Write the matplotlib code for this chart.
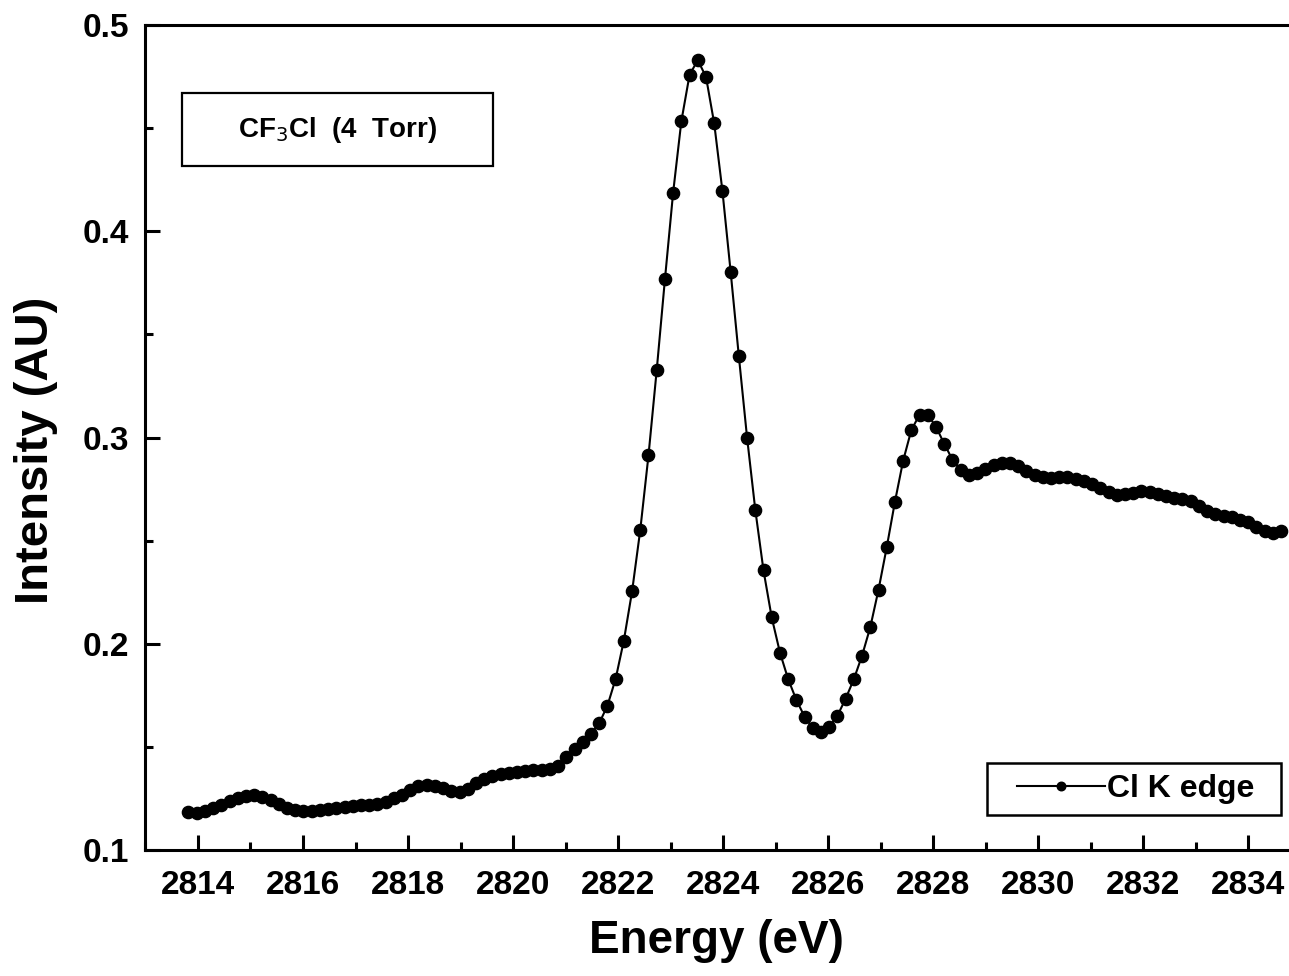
import numpy as np
import matplotlib
matplotlib.use("Agg")
import matplotlib.pyplot as plt
from matplotlib.patches import Rectangle
from matplotlib.ticker import MultipleLocator

plt.rcParams['font.family'] = ['Liberation Sans', 'DejaVu Sans']

# photon energy grid (eV), 134 evenly spaced points
energy = np.linspace(2813.82, 2834.62, 134)

# Cl K edge intensity
intensity = [
    0.1186, 0.1181, 0.1189, 0.1205, 0.1221, 0.1238, 0.1252, 0.1264, 0.1268, 0.1258,
    0.1242, 0.1222, 0.1205, 0.1193, 0.1189, 0.1191, 0.1193, 0.1198, 0.1204, 0.1210,
    0.1214, 0.1217, 0.1221, 0.1225, 0.1234, 0.1252, 0.1268, 0.1290, 0.1312, 0.1318,
    0.1311, 0.1299, 0.1287, 0.1283, 0.1298, 0.1324, 0.1346, 0.1358, 0.1369, 0.1375,
    0.1380, 0.1384, 0.1387, 0.1389, 0.1395, 0.1408, 0.1453, 0.1489, 0.1526, 0.1563,
    0.1615, 0.1700, 0.1830, 0.2016, 0.2254, 0.2553, 0.2914, 0.3327, 0.3767, 0.4188,
    0.4534, 0.4759, 0.4830, 0.4749, 0.4523, 0.4196, 0.3804, 0.3394, 0.3000, 0.2650,
    0.2356, 0.2128, 0.1958, 0.1829, 0.1728, 0.1647, 0.1592, 0.1571, 0.1596, 0.1652,
    0.1734, 0.1829, 0.1943, 0.2081, 0.2262, 0.2468, 0.2689, 0.2888, 0.3037, 0.3111,
    0.3111, 0.3052, 0.2970, 0.2893, 0.2845, 0.2820, 0.2830, 0.2850, 0.2867, 0.2879,
    0.2875, 0.2860, 0.2840, 0.2819, 0.2807, 0.2804, 0.2808, 0.2808, 0.2799, 0.2790,
    0.2775, 0.2756, 0.2738, 0.2723, 0.2726, 0.2732, 0.2740, 0.2738, 0.2725, 0.2715,
    0.2706, 0.2701, 0.2694, 0.2670, 0.2645, 0.2628, 0.2620, 0.2613, 0.2600, 0.2590,
    0.2565, 0.2548, 0.2537, 0.2545,
]

xticks = list(range(2814, 2835, 2))
yticks = [0.1, 0.2, 0.3, 0.4, 0.5]

fig = plt.figure(figsize=(12.89, 9.76), dpi=100)
ax = fig.add_axes([0.1128, 0.129, 0.8965, 0.8453])

ax.plot(energy, intensity, color='black', lw=1.5, marker='o', ms=8.8,
        label='Cl K edge', zorder=3)

ax.set_xlim(2813, 2835)
ax.set_ylim(0.1, 0.5)
ax.set_xticks(xticks)
ax.set_yticks(yticks)
ax.set_xticklabels([str(t) for t in xticks])
ax.set_yticklabels([f'{t:.1f}' for t in yticks])
ax.xaxis.set_minor_locator(MultipleLocator(1))
ax.yaxis.set_minor_locator(MultipleLocator(0.05))

for s in ax.spines.values():
    s.set_linewidth(2.2)
ax.tick_params(which='both', direction='in', width=2.2, top=False, right=False)
ax.tick_params(which='major', length=11)
ax.tick_params(which='minor', length=6)
ax.tick_params(axis='x', pad=14, labelsize=24)
ax.tick_params(axis='y', pad=12, labelsize=24)
for lab in ax.get_xticklabels() + ax.get_yticklabels():
    lab.set_fontweight('bold')

ax.set_xlabel('Energy (eV)', fontsize=33, fontweight='bold')
ax.set_ylabel('Intensity (AU)', fontsize=34, fontweight='bold')
ax.xaxis.set_label_coords(0.494, -0.083)
ax.yaxis.set_label_coords(-0.076, 0.485)

# sample annotation box
ax.add_patch(Rectangle((0.032, 0.829), 0.269, 0.0886, transform=ax.transAxes,
                       fill=False, edgecolor='black', lw=1.6, zorder=4))
ax.text(0.166, 0.873, r'CF$_3$Cl  (4  Torr)', transform=ax.transAxes,
        ha='center', va='center', fontsize=20, fontweight='bold')

# legend: entries without frame, frame drawn separately for the wider box
leg = ax.legend(loc='center left', bbox_to_anchor=(0.7546, 0.0739),
                borderaxespad=0, borderpad=0, frameon=False,
                fontsize=23, handlelength=2.75, handletextpad=0.05,
                markerscale=0.7)
for t in leg.get_texts():
    t.set_fontweight('bold')
ax.add_patch(Rectangle((0.728, 0.042), 0.255, 0.063, transform=ax.transAxes,
                       fill=False, edgecolor='black', lw=1.8, zorder=4))

plt.savefig('out.png', dpi=100)
